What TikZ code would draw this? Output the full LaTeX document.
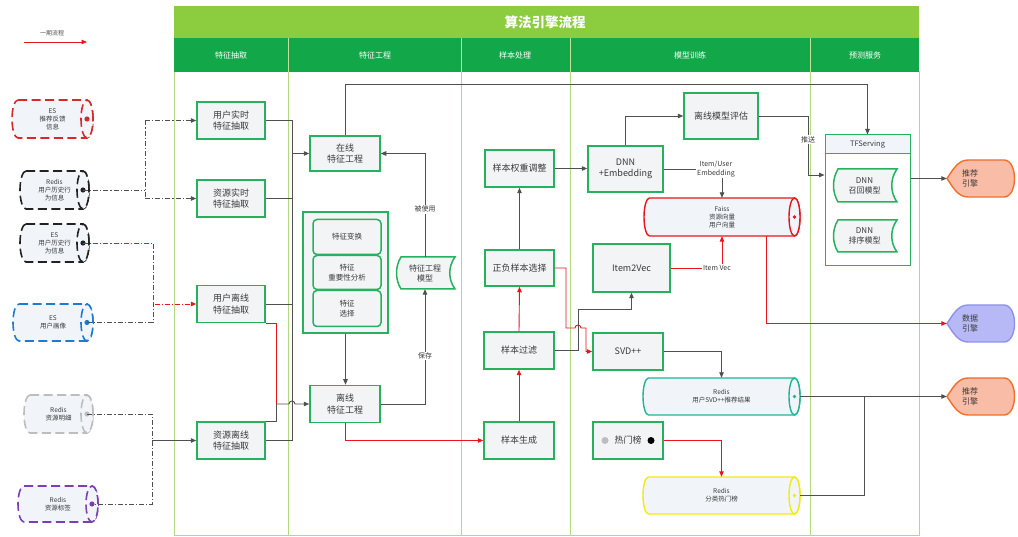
\documentclass[tikz,border=0pt]{standalone}
\usepackage{fontspec}
\setmainfont{Noto Sans CJK SC}
\usetikzlibrary{arrows.meta,calc}
\definecolor{titlegreen}{HTML}{8BCD3F}
\definecolor{headgreen}{HTML}{12A84A}
\definecolor{lanegreen}{HTML}{B3DA80}
\definecolor{boxgreen}{HTML}{27B15F}
\definecolor{boxfill}{HTML}{F2F4F6}
\definecolor{cylfill}{HTML}{F1F5FA}
\definecolor{txt}{HTML}{3A3A3A}
\definecolor{conngray}{HTML}{505050}
\definecolor{flowred}{HTML}{E8161C}
\definecolor{cred}{HTML}{D42A2A}
\definecolor{cblack}{HTML}{222222}
\definecolor{cblue}{HTML}{1E7BD1}
\definecolor{cgray}{HTML}{BDBDBD}
\definecolor{cpurple}{HTML}{7B3FB5}
\definecolor{cteal}{HTML}{23B497}
\definecolor{cyellow}{HTML}{F2EB0F}
\definecolor{engorange}{HTML}{F9BCA6}
\definecolor{engorangeD}{HTML}{F0702A}
\definecolor{engblue}{HTML}{B7B9F7}
\definecolor{engblueD}{HTML}{8E92EC}

% cylinder: #1 name, #2 x1, #3 y1, #4 x2, #5 y2, #6 rx, #7 style, #8 text
\newcommand\drawcyl[8]{%
  \pgfmathsetmacro\cylry{(#5-#3)/2}%
  \pgfmathsetmacro\cylym{(#3+#5)/2}%
  \pgfmathsetmacro\cylxm{(#2+#4)/2}%
  \pgfmathsetmacro\cylw{#4-#2}%
  \pgfmathsetmacro\cylh{#5-#3}%
  \draw[#7] ({#2+#6},#3) -- ({#4-#6},#3) arc[start angle=90,end angle=-90,x radius=#6pt,y radius=\cylry pt] -- ({#2+#6},#5) arc[start angle=270,end angle=90,x radius=#6pt,y radius=\cylry pt] -- cycle;
  \draw[#7] ({#4-#6},\cylym) ellipse[x radius=#6pt,y radius=\cylry pt];
  \node[cyltext, minimum width=\cylw pt, minimum height=\cylh pt] (#1) at (\cylxm,\cylym) {#8};
  \coordinate (#1-d) at ({#4-#6},\cylym);
}
% stored data: #1 name, #2 xl, #3 y1, #4 xr, #5 y2, #6 text
\newcommand\storeddata[6]{%
  \pgfmathsetmacro\sdh{#5-#3}%
  \pgfmathsetmacro\sdw{#4-#2}%
  \pgfmathsetmacro\sdym{(#3+#5)/2}%
  \pgfmathsetmacro\sdxm{(#2+#4)/2}%
  \draw[draw=boxgreen,line width=1.5pt,fill=boxfill] ({#2+6},#3) -- (#4,#3) .. controls ({#4-7},{#3+\sdh*0.3}) and ({#4-7},{#5-\sdh*0.3}) .. (#4,#5) -- ({#2+6},#5) .. controls (#2,{#5-\sdh*0.3}) and (#2,{#3+\sdh*0.3}) .. ({#2+6},#3) -- cycle;
  \node[sdtext, minimum width=\sdw pt, minimum height=\sdh pt] (#1) at (\sdxm,\sdym) {#6};
}
% engine display shape: #1 name, #2 cy, #3 fill, #4 draw, #5 text
\newcommand\engineshape[5]{%
  \draw[fill=#3,draw=#4,line width=1.4pt] (947,#2) .. controls (953,{#2-9}) and (958,{#2-18.5}) .. (968,{#2-18.5}) -- (1004,{#2-18.5}) .. controls (1018,{#2-18.5}) and (1018,{#2+18.5}) .. (1004,{#2+18.5}) -- (968,{#2+18.5}) .. controls (958,{#2+18.5}) and (953,{#2+9}) .. (947,#2) -- cycle;
  \node[engtext] (#1) at (982,#2) {#5};
}

\begin{document}
\begin{tikzpicture}[x=1pt,y=-1pt,
  box/.style={draw=boxgreen, line width=1.5pt, fill=boxfill, text=txt, font=\fontsize{9}{11.5}\selectfont, align=center, inner sep=0pt, minimum width=68pt, minimum height=37pt},
  ibox/.style={box, rounded corners=4pt, font=\fontsize{7.5}{10}\selectfont},
  conn/.style={draw=conngray, line width=0.9pt},
  rconn/.style={draw=flowred, line width=0.9pt},
  arr/.style={-{Triangle[length=5.5pt,width=4.5pt]}},
  dd/.style={conn, dash pattern=on 5pt off 2pt on 1.2pt off 2pt},
  rdd/.style={rconn, dash pattern=on 5pt off 2pt on 1.2pt off 2pt},
  lbl/.style={fill=white, text=txt, font=\fontsize{7}{8.5}\selectfont, inner sep=1pt, align=center},
  cyltext/.style={text=txt, font=\fontsize{6.5}{8}\selectfont, align=center, inner sep=0pt},
  sdtext/.style={text=txt, font=\fontsize{8}{10}\selectfont, align=center, inner sep=0pt},
  engtext/.style={text=txt, font=\fontsize{8}{10}\selectfont, align=left, text width=40pt, minimum width=70pt, minimum height=37pt, inner sep=0pt},
  head/.style={text=white, font=\fontsize{8}{10}\selectfont},
  leftcyl/.style={line width=1.6pt, fill=cylfill, dash pattern=on 9pt off 4.5pt},
  rightcyl/.style={line width=1.4pt, fill=cylfill}
]
\useasboundingbox (0,0) rectangle (1018,537);
\fill[white] (0,0) rectangle (1018,537);

% ---------- lanes and headers ----------
\draw[lanegreen, line width=1pt] (174,72) rectangle (919,535);
\foreach \x in {288,461,570,810} \draw[lanegreen, line width=1pt] (\x,72) -- (\x,535);
\fill[titlegreen] (174,6) rectangle (919,38);
\fill[headgreen] (174,38) rectangle (919,72);
\foreach \x in {288,461,570,810} \draw[lanegreen!80!white, line width=0.8pt] (\x,38) -- (\x,72);
\node[text=white, font=\fontsize{13.5}{15}\selectfont\bfseries] (title) at (545,22) {算法引擎流程};
\node[head] (h1) at (231,55) {特征抽取};
\node[head] (h2) at (375,55) {特征工程};
\node[head] (h3) at (515,55) {样本处理};
\node[head] (h4) at (690,55) {模型训练};
\node[head] (h5) at (865,55) {预测服务};

% ---------- legend ----------
\node[text=conngray, font=\fontsize{6}{7}\selectfont] (legend) at (52,33) {一期流程};
\coordinate (lg1) at (24,42);
\coordinate (lg2) at (87,42);
\draw[rconn,arr] (lg1) -- (lg2);

% ---------- left data sources ----------
\drawcyl{c1}{12}{100}{93}{138}{6}{leftcyl,draw=cred}{ES\\推荐反馈\\信息}
\fill[cred] (c1-d) circle (2.6pt);
\drawcyl{c2}{20}{171}{89}{209}{6}{leftcyl,draw=cblack}{Redis\\用户历史行\\为信息}
\fill[cblack] (c2-d) circle (2.6pt);
\drawcyl{c3}{20}{224}{89}{262}{6}{leftcyl,draw=cblack}{ES\\用户历史行\\为信息}
\fill[cblack] (c3-d) circle (2.6pt);
\drawcyl{c4}{13}{304}{93}{341}{6}{leftcyl,draw=cblue}{ES\\用户画像}
\fill[cblue] (c4-d) circle (2.6pt);
\drawcyl{c5}{24}{395}{93}{433}{6}{leftcyl,draw=cgray}{Redis\\资源明细}
\fill[cgray] (c5-d) circle (2.6pt);
\drawcyl{c6}{18}{486}{98}{522}{6}{leftcyl,draw=cpurple}{Redis\\资源标签}
\fill[cpurple] (c6-d) circle (2.6pt);

% ---------- column 1 ----------
\node[box] (u1) at (231,120.5) {用户实时\\特征抽取};
\node[box] (u2) at (231,198.5) {资源实时\\特征抽取};
\node[box] (u3) at (231,304) {用户离线\\特征抽取};
\node[box] (u4) at (231,440.5) {资源离线\\特征抽取};

% ---------- column 2 ----------
\node[box, minimum width=70pt, minimum height=35pt] (fe1) at (345,153.5) {在线\\特征工程};
\node[draw=boxgreen, line width=1.5pt, fill=boxfill, minimum width=85pt, minimum height=121pt, inner sep=0pt] (grp) at (345.5,272.5) {};
\node[ibox, minimum height=35pt] (g1) at (347,237) {特征变换};
\node[ibox, minimum height=34pt] (g2) at (347,272.5) {特征\\重要性分析};
\node[ibox, minimum height=36pt] (g3) at (347,308.5) {特征\\选择};
\node[box, minimum width=70pt] (fe2) at (345,404) {离线\\特征工程};
\storeddata{fem}{395}{257}{455}{289}{特征工程\\模型}

% ---------- column 3 ----------
\node[box, minimum width=69pt] (s1) at (519.5,168.5) {样本权重调整};
\node[box, minimum width=69pt, minimum height=36pt] (s2) at (519.5,268) {正负样本选择};
\node[box, minimum width=70pt] (s3) at (519,350.5) {样本过滤};
\node[box, minimum width=70pt] (s4) at (519,440.5) {样本生成};

% ---------- column 4 ----------
\node[box, minimum width=75pt, minimum height=46pt] (dnn) at (625.5,169) {DNN\\+Embedding};
\node[box, minimum width=74pt, minimum height=46pt] (eval) at (721,116) {离线模型评估};
\drawcyl{faiss}{644}{198}{800}{236}{5.5}{rightcyl,draw=flowred}{Faiss\\资源向量\\用户向量}
\fill[flowred] (faiss-d) circle (1.8pt);
\node[box, minimum width=77pt, minimum height=48pt] (i2v) at (631.5,268) {Item2Vec};
\node[box, minimum width=70pt] (svd) at (628,351.5) {SVD++};
\node[box, minimum width=70pt] (hot) at (628,440.5) {热门榜};
\fill[cgray] (605,440.5) circle (3.5pt);
\fill[black] (651,440.5) circle (3.5pt);
\drawcyl{rsvd}{643}{378}{800}{415}{5.5}{rightcyl,draw=cteal}{Redis\\用户SVD++推荐结果}
\fill[cteal] (rsvd-d) circle (1.8pt);
\drawcyl{rhot}{643}{477}{800}{514}{5.5}{rightcyl,draw=cyellow}{Redis\\分类热门榜}
\fill[cyellow] (rhot-d) circle (1.8pt);

% ---------- column 5 ----------
\node[draw=boxgreen, line width=1pt, fill=white, minimum width=85pt, minimum height=131pt, inner sep=0pt] (tfs) at (867.5,200.5) {};
\node[draw=boxgreen, line width=1pt, fill=cylfill, minimum width=85pt, minimum height=19pt, inner sep=0pt, text=txt, font=\fontsize{7.5}{9}\selectfont] (tfsh) at (867.5,144.5) {TFServing};
\storeddata{m1}{832}{169}{897}{202}{DNN\\召回模型}
\storeddata{m2}{832}{220}{897}{252}{DNN\\排序模型}

% ---------- engines ----------
\engineshape{e1}{178.5}{engorange}{engorangeD}{推荐\\引擎}
\engineshape{e2}{323.5}{engblue}{engblueD}{数据\\引擎}
\engineshape{e3}{396.5}{engorange}{engorangeD}{推荐\\引擎}

% ---------- junction coordinates ----------
\coordinate (j1) at (145,0);
\coordinate (j2) at (153,0);
\coordinate (j3) at (152,0);
\coordinate (j4) at (292,0);
\coordinate (j5) at (276,0);
\coordinate (j7) at (566,0);
\coordinate (j8) at (578,0);
\coordinate (j9) at (586,0);
\coordinate (j10) at (808,0);
\coordinate (j12) at (766,0);
\coordinate (j13) at (864,0);
\coordinate (ty) at (0,84);
\coordinate (hy) at (0,328);
\coordinate (ky) at (0,309);
\coordinate (py) at (0,175);

% ---------- left connectors ----------
\draw[dd] (c2-d) -- (c2-d -| j1) (j1 |- u1) -- (j1 |- u2);
\draw[dd,arr] (j1 |- u1) -- (u1);
\draw[dd,arr] (j1 |- u2) -- (u2);
\draw[rdd,arr] (c3-d) -| (j2 |- u3) -- (u3);
\draw[dd] (c4-d) -| (j2 |- u3);
\draw[dd] (c5-d) -| (j3 |- c6-d) -- (c6-d);
\draw[conn,arr] (j3 |- u4) -- (u4);

% ---------- column 1 -> column 2 ----------
\draw[conn] (u1.east) -- (u1.east -| j4);
\draw[conn] (u2.east) -- (u2.east -| j4);
\draw[conn] (u3.east) -- (u3.east -| j4);
\draw[conn] (u4.east) -- (u4.east -| j4);
\draw[conn] (j4 |- u1) -- (j4 |- u4);
\draw[conn,arr] (j4 |- fe1) -- (fe1);
\draw[rconn] (u3.south east) -| (j5 |- fe2);
\draw[conn] (u4.north east) -| (j5 |- fe2);
\draw[conn,arr] (j5 |- fe2) -- ($(j4 |- fe2)+(-3,0)$) arc[start angle=180,end angle=0,radius=3pt] -- (fe2);

% ---------- column 2 internal ----------
\draw[conn,arr] (fe1.north) |- (tfs.north |- ty) -- (tfs.north);
\draw[conn,arr] (fem.north) |- node[lbl,pos=0.23]{被使用} (fe1.east);
\draw[conn,arr] (fe2.east) -| node[lbl,pos=0.71]{保存} (fem.south);
\draw[conn,arr] (grp.south) -- (grp.south |- fe2.north);
\draw[rconn,arr] (fe2.south) |- (s4.west);

% ---------- column 3 ----------
\draw[rconn,arr] (s4.north) -- (s3.south);
\draw[rconn,arr] (s3.north) -- (s2.south);
\draw[conn,arr] (s2.north) -- (s1.south);
\draw[conn,arr] (s1.east) -- (s1.east -| dnn.west);
\draw[rconn,arr] (s2.east) -| (j7 |- hy) -- ($(j8 |- hy)+(-3,0)$) arc[start angle=180,end angle=0,radius=3pt] -- (j9 |- hy) |- (svd.west);
\draw[conn,arr] (s3.east) -| (j8 |- ky) -| (i2v.south);

% ---------- column 4 ----------
\draw[conn,arr] (dnn.north) |- (eval.west);
\draw[conn,arr] (eval.east) -| node[lbl,pos=0.7]{推送} (j10 |- py) -- (tfs.west |- py);
\draw[conn,arr] (dnn.east) -| node[lbl,pos=0.5,xshift=-6pt]{Item/User\\Embedding} (faiss.north);
\draw[rconn,arr] (i2v.east) -| node[lbl,pos=0.5,xshift=-5pt]{Item Vec} (faiss.south);
\draw[rconn,arr] (faiss.south -| j12) |- (e2.west);
\draw[conn,arr] (svd.east) -| (rsvd.north);
\draw[rconn,arr] (hot.east) -| (rhot.north);
\draw[conn,arr] (rsvd.east) -- (e3.west);
\draw[conn] (rhot.east) -| (j13 |- e3.west);
\draw[conn,arr] (tfs.east |- e1.west) -- (e1.west);
\end{tikzpicture}
\end{document}
